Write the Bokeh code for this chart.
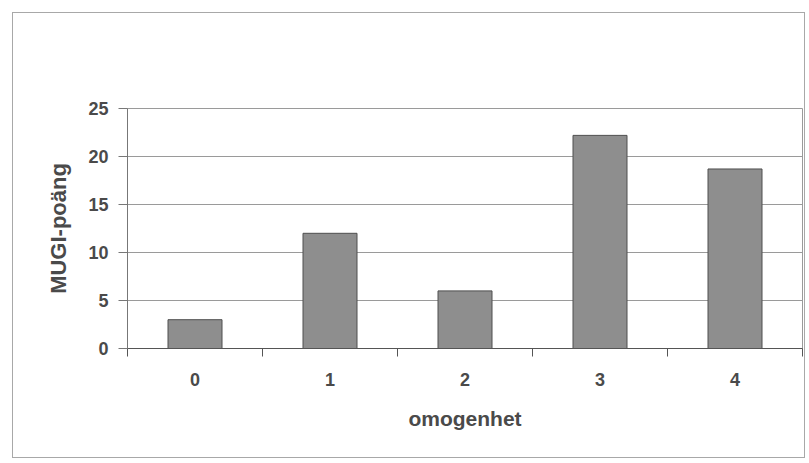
from bokeh.plotting import figure
from bokeh.models import Range1d, FixedTicker
from bokeh.embed import file_html
from bokeh.resources import INLINE

categories = ["0", "1", "2", "3", "4"]
values = [3, 12, 6, 22.2, 18.7]
y_ticks = [0, 5, 10, 15, 20, 25]
x_label = "omogenhet"
y_label = "MUGI-poäng"

xs = list(range(len(categories)))

p = figure(width=793, height=446, output_backend="svg", toolbar_location=None,
           x_range=Range1d(-0.5, len(categories) - 0.5), y_range=Range1d(0, 25),
           min_border_left=114, min_border_top=95, min_border_right=4, min_border_bottom=111)
p.margin = (12, 0, 0, 12)
p.styles = {"border": "1px solid #a8a8a8"}
p.background_fill_color = "white"
p.border_fill_color = "white"
p.outline_line_color = "#9a9a9a"
p.outline_line_width = 1

p.vbar(x=xs, top=values, width=0.4, bottom=0, fill_color="#8e8e8e",
       line_color="#4e4e4e", line_width=1)

font = "'Liberation Sans', Arial, sans-serif"
txt = "#4a4a4a"

# x axis
p.xaxis.ticker = FixedTicker(ticks=xs, minor_ticks=[i - 0.5 for i in range(len(categories) + 1)])
p.xaxis.major_label_overrides = {i: c for i, c in enumerate(categories)}
p.xaxis.major_tick_line_color = None
p.xaxis.major_tick_out = 8
p.xaxis.major_tick_in = 0
p.xaxis.minor_tick_line_color = "#555555"
p.xaxis.minor_tick_out = 8
p.xaxis.minor_tick_in = 0
p.xaxis.axis_line_color = "#555555"
p.xaxis.major_label_standoff = 16
p.xaxis.major_label_text_font = font
p.xaxis.major_label_text_font_style = "bold"
p.xaxis.major_label_text_font_size = "18px"
p.xaxis.major_label_text_color = txt
p.xaxis.axis_label = x_label
p.xaxis.axis_label_text_font = font
p.xaxis.axis_label_text_font_style = "bold"
p.xaxis.axis_label_text_font_size = "21px"
p.xaxis.axis_label_text_color = txt
p.xaxis.axis_label_standoff = 18

# y axis
p.yaxis.ticker = FixedTicker(ticks=y_ticks)
p.yaxis.minor_tick_line_color = None
p.yaxis.major_tick_line_color = "#777777"
p.yaxis.major_tick_out = 9
p.yaxis.major_tick_in = 0
p.yaxis.axis_line_color = "#777777"
p.yaxis.major_label_standoff = 10
p.yaxis.major_label_text_font = font
p.yaxis.major_label_text_font_style = "bold"
p.yaxis.major_label_text_font_size = "18px"
p.yaxis.major_label_text_color = txt
p.yaxis.axis_label = y_label
p.yaxis.axis_label_text_font = font
p.yaxis.axis_label_text_font_style = "bold"
p.yaxis.axis_label_text_font_size = "22px"
p.yaxis.axis_label_text_color = txt
p.yaxis.axis_label_standoff = 14

p.xgrid.grid_line_color = None
p.ygrid.grid_line_color = "#9a9a9a"
p.ygrid.grid_line_width = 1

open("out.html", "w").write(file_html(p, INLINE))
